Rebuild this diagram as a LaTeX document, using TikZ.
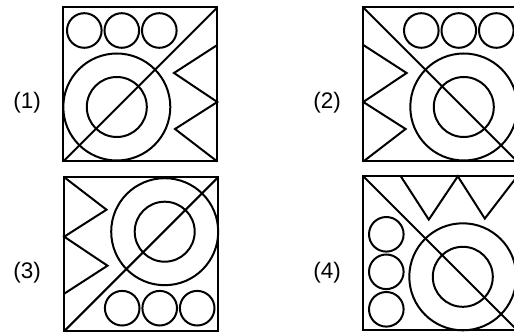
\documentclass[tikz,border=0pt]{standalone}
\usepackage{fontspec}
\setmainfont{Liberation Sans}

\begin{document}
\begin{tikzpicture}[x=1pt,y=1pt,line width=2pt,
    lbl/.style={font=\fontsize{22.5}{26}\selectfont}]
        \clip (0,0) rectangle (514,335);
        \begin{scope}[shift={(140.3,250.5)}]
        \draw (-77,-77) rectangle (77,77);
        \draw (-77,-77)--(77,77);
    \foreach \x in {-56,-18.5,19}{
        \draw (\x,54) circle (17.3);
    }
        \draw (-23.5,-22.5) circle (53.5);
        \draw (-23.5,-22.5) circle (30);
        \draw (77,39.5)--(33.7,11.5)--(77,-17.5)--(34.7,-44.5)--(77,-77);
        \end{scope}
        \begin{scope}[shift={(440.3,250.5)},xscale=-1]
        \draw (-77,-77) rectangle (77,77);
        \draw (-77,-77)--(77,77);
    \foreach \x in {-56,-18.5,19}{
        \draw (\x,54) circle (17.3);
    }
        \draw (-23.5,-22.5) circle (53.5);
        \draw (-23.5,-22.5) circle (30);
        \draw (77,39.5)--(33.7,11.5)--(77,-17.5)--(34.7,-44.5)--(77,-77);
        \end{scope}
        \begin{scope}[shift={(141.2,80.8)},rotate=180]
        \draw (-77,-77) rectangle (77,77);
        \draw (-77,-77)--(77,77);
    \foreach \x in {-56,-18.5,19}{
        \draw (\x,54) circle (17.3);
    }
        \draw (-23.5,-22.5) circle (53.5);
        \draw (-23.5,-22.5) circle (30);
        \draw (77,39.5)--(33.7,11.5)--(77,-17.5)--(34.7,-44.5)--(77,-77);
        \end{scope}
        \begin{scope}[shift={(440.3,81.7)},rotate=90]
        \draw (-77,-77) rectangle (77,77);
        \draw (-77,-77)--(77,77);
    \foreach \x in {-56,-18.5,19}{
        \draw (\x,54) circle (17.3);
    }
        \draw (-23.5,-22.5) circle (53.5);
        \draw (-23.5,-22.5) circle (30);
        \draw (77,39.5)--(33.7,11.5)--(77,-17.5)--(34.7,-44.5)--(77,-77);
        \end{scope}
        \node[lbl] (lab1) at (27.2,232) {(1)};
        \node[lbl] (lab2) at (327.2,232) {(2)};
        \node[lbl] (lab3) at (27.2,62) {(3)};
        \node[lbl] (lab4) at (327.2,62) {(4)};
        \end{tikzpicture}
\end{document}
